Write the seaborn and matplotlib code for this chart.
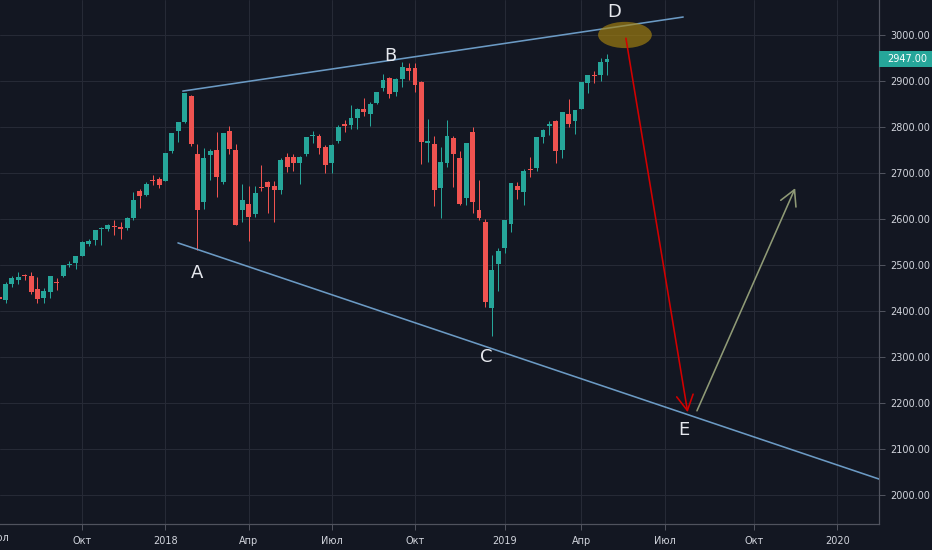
import matplotlib
matplotlib.use("Agg")
import matplotlib.pyplot as plt
import matplotlib.transforms as mtransforms
from matplotlib.patches import Ellipse, Rectangle
import seaborn as sns
import pandas as pd
import numpy as np

# weekly candles, first bar = week of 2017-07-03
opens = [2431, 2424, 2459, 2467, 2477, 2477, 2448, 2428, 2442, 2463,
         2476, 2500, 2504, 2520, 2546, 2554, 2578, 2579, 2584, 2583,
         2580, 2602, 2661, 2653, 2685, 2686, 2683, 2747, 2791, 2810,
         2867, 2741, 2636, 2738, 2750, 2681, 2791, 2750, 2619, 2633,
         2611, 2670, 2680, 2672, 2663, 2735, 2735, 2722, 2742, 2780,
         2780, 2757, 2722, 2769, 2806, 2804, 2819, 2840, 2828, 2853,
         2884, 2906, 2876, 2904, 2929, 2928, 2898, 2766, 2763, 2667,
         2721, 2777, 2732, 2645, 2789, 2620, 2594, 2406, 2502, 2537,
         2589, 2672, 2659, 2708, 2711, 2779, 2802, 2812, 2750, 2828,
         2813, 2840, 2896, 2912, 2913, 2941]
highs = [2434, 2463, 2477, 2484, 2480, 2484, 2474, 2451, 2477, 2471,
         2501, 2508, 2520, 2552, 2557, 2576, 2582, 2590, 2597, 2594,
         2605, 2658, 2665, 2680, 2695, 2692, 2743, 2787, 2810, 2873,
         2870, 2763, 2754, 2753, 2789, 2787, 2802, 2762, 2675, 2672,
         2672, 2718, 2682, 2683, 2732, 2743, 2742, 2736, 2779, 2791,
         2785, 2760, 2764, 2804, 2816, 2848, 2841, 2863, 2854, 2877,
         2916, 2908, 2906, 2941, 2940, 2940, 2900, 2817, 2781, 2756,
         2816, 2780, 2747, 2765, 2800, 2685, 2601, 2521, 2538, 2598,
         2678, 2681, 2708, 2735, 2778, 2795, 2814, 2816, 2833, 2860,
         2837, 2898, 2913, 2922, 2949, 2958]
lows = [2405, 2418, 2453, 2459, 2468, 2437, 2417, 2417, 2428, 2446,
        2474, 2496, 2491, 2520, 2542, 2544, 2544, 2573, 2566, 2557,
        2575, 2598, 2624, 2650, 2673, 2667, 2682, 2743, 2768, 2808,
        2759, 2533, 2622, 2684, 2647, 2675, 2741, 2586, 2594, 2553,
        2605, 2660, 2612, 2594, 2655, 2702, 2705, 2676, 2737, 2766,
        2742, 2699, 2699, 2766, 2790, 2795, 2796, 2824, 2803, 2850,
        2879, 2864, 2867, 2886, 2903, 2875, 2720, 2724, 2628, 2603,
        2714, 2670, 2631, 2631, 2613, 2597, 2409, 2346, 2443, 2525,
        2571, 2643, 2631, 2692, 2705, 2766, 2782, 2722, 2733, 2800,
        2785, 2838, 2874, 2896, 2900, 2912]
closes = [2425, 2459, 2472, 2473, 2476, 2441, 2426, 2443, 2476, 2461,
          2500, 2502, 2519, 2549, 2553, 2575, 2581, 2588, 2582, 2579,
          2602, 2642, 2651, 2676, 2683, 2674, 2743, 2786, 2810, 2873,
          2762, 2620, 2732, 2748, 2691, 2786, 2752, 2588, 2641, 2604,
          2656, 2668, 2670, 2663, 2728, 2713, 2721, 2735, 2779, 2781,
          2755, 2718, 2760, 2801, 2802, 2819, 2840, 2833, 2850, 2875,
          2902, 2872, 2905, 2931, 2921, 2891, 2767, 2770, 2663, 2724,
          2780, 2741, 2633, 2765, 2637, 2602, 2420, 2489, 2530, 2598,
          2678, 2664, 2705, 2707, 2778, 2793, 2806, 2747, 2833, 2806,
          2837, 2898, 2913, 2910, 2941, 2947]
last_price = 2947.00

price_ticks = [2000, 2100, 2200, 2300, 2400, 2500, 2600, 2700, 2800, 2900, 3000]
month_labels = {1: None, 4: "Апр", 7: "Июл", 10: "Окт"}

# drawings on the chart (bar index, price)
upper_line = ([28.7, 106.9], [2878, 3039])
lower_line = ([27.95, 140.0], [2548, 2023])
drop_arrow = ((97.95, 2993), (107.6, 2180))
rise_arrow = ((109.05, 2183), (124.4, 2667))
letters = {"A": (30.9, 2483), "B": (61.1, 2954), "C": (76.1, 2300),
           "D": (96.1, 3050), "E": (107.0, 2141)}

BG = "#131722"
GRID = "#262a36"
UP = "#26a69a"
DOWN = "#ef5350"
TXT = "#d1d4dc"
AXLINE = "#50535e"
PX = 0.72  # one pixel in points

sns.set_theme(style="dark", rc={
    "axes.facecolor": BG, "figure.facecolor": BG,
    "axes.edgecolor": AXLINE, "grid.color": GRID,
    "xtick.color": AXLINE, "ytick.color": AXLINE,
})
plt.rcParams["font.family"] = ["DejaVu Sans"]

df = pd.DataFrame({"open": opens, "high": highs, "low": lows, "close": closes})
df["x"] = np.arange(len(df))
df["color"] = np.where(df["close"] >= df["open"], UP, DOWN)
df["bottom"] = df[["open", "close"]].min(axis=1)
df["body"] = (df["close"] - df["open"]).abs().clip(lower=2.2)

weeks = pd.date_range("2017-07-03", periods=140, freq="W-MON")
tick_pos, tick_lab = [], []
for i in range(1, len(weeks)):
    m = weeks[i].month
    if m != weeks[i - 1].month and m in month_labels:
        tick_pos.append(i)
        tick_lab.append(str(weeks[i].year) if m == 1 else month_labels[m])

fig = plt.figure(figsize=(9.32, 5.5), dpi=100)
ax = fig.add_axes([0, 26 / 550, 879 / 932, 524 / 550])
ax.set_xlim(0.14, 137.5)
ax.set_ylim(1937, 3076)

ax.vlines(df["x"], df["low"], df["high"], colors=df["color"], lw=1.0 * PX, zorder=2)
ax.bar(df["x"], df["body"], bottom=df["bottom"], width=0.76,
       color=df["color"], linewidth=0, zorder=3)

# grid / axes
ax.set_xticks(tick_pos)
ax.set_xticklabels(tick_lab)
ax.set_yticks(price_ticks)
ax.set_yticklabels([f"{p:.2f}" for p in price_ticks])
ax.grid(True, color=GRID, lw=1.0 * PX, zorder=0)
ax.yaxis.tick_right()
ax.tick_params(axis="both", which="major", length=4, width=PX, labelsize=7,
               labelcolor=TXT, direction="out")
ax.tick_params(axis="y", pad=4, right=True)
ax.tick_params(axis="x", pad=5, bottom=True)
for side in ["top", "left"]:
    ax.spines[side].set_visible(False)
for side in ["right", "bottom"]:
    ax.spines[side].set_color(AXLINE)
    ax.spines[side].set_linewidth(1.2 * PX)

# first month label, cut by the left edge
xt = mtransforms.blended_transform_factory(ax.transData, ax.transAxes)
ax.text(-0.15, -0.026, "Июл", transform=xt, ha="center", va="center",
        fontsize=7, color=TXT, clip_on=False)

# trend lines and forecast arrows
ax.plot(*upper_line, color="#6b9ac4", lw=1.6 * PX, zorder=4)
ax.plot(*lower_line, color="#6b9ac4", lw=1.6 * PX, zorder=4)
ax.add_patch(Ellipse((97.8, 3000), 8.4, 57, facecolor="#a8840f", alpha=0.65,
                     edgecolor="none", zorder=5))
ax.annotate("", xy=drop_arrow[1], xytext=drop_arrow[0], zorder=6,
            arrowprops=dict(arrowstyle="->,head_length=0.55,head_width=0.3",
                            color="#d40000", lw=1.6 * PX, shrinkA=0, shrinkB=0,
                            mutation_scale=20))
ax.annotate("", xy=rise_arrow[1], xytext=rise_arrow[0], zorder=6,
            arrowprops=dict(arrowstyle="->,head_length=0.55,head_width=0.3",
                            color="#8f9a76", lw=1.6 * PX, shrinkA=0, shrinkB=0,
                            mutation_scale=20))

for name, (lx, ly) in letters.items():
    ax.text(lx, ly, name, ha="center", va="center", fontsize=13,
            color="#e6e8ee", zorder=7)

# last price tag on the price scale
yt = mtransforms.blended_transform_factory(ax.transAxes, ax.transData)
ax.add_patch(Rectangle((1.0, last_price - 8 / 0.46), 53 / 879, 16 / 0.46,
                       transform=yt, facecolor=UP, edgecolor="none",
                       clip_on=False, zorder=8))
ax.text(1.0 + 8 / 879, last_price, f"{last_price:.2f}", transform=yt,
        ha="left", va="center", fontsize=7, color="white", clip_on=False, zorder=9)

fig.savefig("out.png", dpi=100, facecolor=BG)
plt.close(fig)
